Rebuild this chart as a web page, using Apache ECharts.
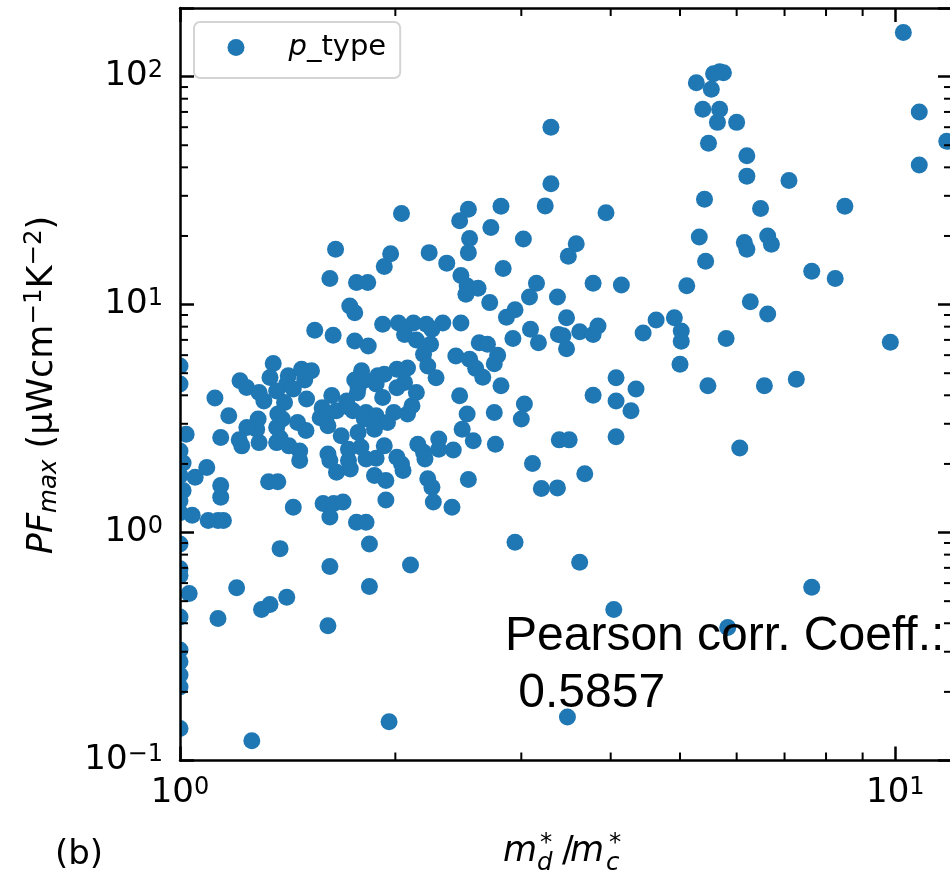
<!DOCTYPE html>
<html>
<head>
<meta charset="utf-8">
<script src="https://cdn.jsdelivr.net/npm/echarts@6/dist/echarts.min.js"></script>
<style>
  html, body { margin: 0; padding: 0; background: #ffffff; }
  #chart { width: 950px; height: 878px; }
</style>
</head>
<body>
<div id="chart"></div>
<script>
// p-type samples: [m_d*/m_c*, PF_max (uW cm^-1 K^-2)]
const pTypePoints = [
  [1.0,5.38],[1.0,4.48],[1.02,2.7],[1.0,2.28],[1.01,2.02],[1.0,1.78],[1.01,1.53],[1.0,1.38],[1.0,1.22],[1.05,1.75],
  [1.0,0.89],[1.0,0.694],[1.0,0.648],[1.03,0.54],[1.0,0.426],[1.0,0.305],[1.0,0.271],[1.0,0.237],[1.0,0.21],[1.0,0.138],
  [1.2,0.573],[1.84,0.58],[1.41,0.52],[1.336,0.483],[1.3,0.46],[1.13,0.42],[1.61,0.39],[1.96,0.148],[1.26,0.122],[1.62,0.71],
  [2.1,0.72],[1.38,0.85],[1.84,0.89],[2.94,0.907],[3.62,0.74],[7.64,0.576],[4.04,0.46],[5.83,0.383],[3.48,0.155],
  [1.09,1.93],[1.14,1.61],[1.14,1.43],[1.33,1.67],[1.37,1.67],[1.44,1.29],[1.585,1.34],[1.64,1.34],[1.69,1.36],[1.62,1.17],
  [1.765,1.11],[1.82,1.11],[1.04,1.19],[1.095,1.13],[1.13,1.13],[1.15,1.13],[1.87,1.78],[1.94,1.69],[1.94,1.39],[2.05,1.87],
  [2.04,2.0],[2.22,1.72],[2.25,1.58],[2.26,1.36],[2.4,1.29],[2.53,1.71],[3.2,1.56],[3.37,1.57],[3.68,1.81],[3.11,2.01],
  [1.655,1.84],[1.61,2.21],[1.62,2.07],[1.72,2.07],[1.88,2.12],[1.47,2.28],[1.47,2.07],[1.42,2.4],[1.365,2.48],[1.73,1.9],[1.82,2.1],
  [1.17,3.25],[1.14,2.61],[1.22,2.4],[1.29,2.48],[1.119,3.89],[1.213,4.63],[1.239,4.33],[1.35,5.51],[1.336,4.79],[1.417,4.87],
  [1.479,5.2],[1.527,5.12],[1.494,4.67],[1.503,3.85],[1.63,3.99],[1.794,5.12],[1.813,4.67],[1.774,4.33],[1.92,8.2],[2.02,8.3],
  [2.12,8.3],[2.21,8.2],[2.33,8.3],[2.47,8.3],[2.06,7.4],[2.14,7.0],[2.24,6.7],[2.25,7.8],[2.43,5.95],[2.19,6.05],
  [2.22,5.38],[2.28,4.78],[2.08,5.27],[2.06,4.55],[2.01,4.32],[2.14,4.11],[2.08,3.31],[1.99,3.36],[1.92,3.91],[1.88,4.48],
  [1.755,4.67],[1.77,4.1],[1.655,3.42],[1.71,3.78],[1.745,3.42],[1.82,3.36],[2.46,3.98],[2.52,3.31],[1.57,3.19],[1.61,2.94],
  [1.41,4.48],[1.44,4.26],[1.29,4.11],[1.31,3.78],[1.365,4.18],[1.4,3.72],[1.39,3.15],[1.365,2.89],[1.46,3.04],[1.5,2.8],
  [1.286,3.15],[1.28,2.84],[1.24,2.89],[1.21,2.55],[1.38,2.6],[1.68,2.66],[1.72,2.32],[1.774,2.75],[1.79,2.37],[1.81,3.15],
  [1.58,3.53],[1.61,3.31],[1.72,3.55],[1.37,3.31],[2.54,5.76],[2.59,5.25],[2.62,6.8],[2.69,6.7],[1.89,4.87],[1.93,4.95],
  [2.01,5.2],[2.11,3.6],[1.88,3.25],[1.95,3.04],[1.87,2.84],[1.93,2.4],[2.15,2.44],[2.19,2.25],[2.2,2.1],[2.3,2.57],
  [2.3,2.32],[2.41,2.3],[2.48,2.84],[2.57,2.53],[2.76,2.44],[2.01,2.14],
  [1.727,9.86],[1.755,9.21],[1.543,7.71],[1.637,7.33],[1.755,6.92],[1.833,6.58],[1.62,13.0],[1.65,17.5],[1.765,12.5],[1.83,12.5],
  [1.93,14.7],[1.97,16.7],[2.04,25.1],[2.23,16.9],[2.36,15.2],[2.46,23.3],[2.53,26.2],[2.54,19.5],[2.53,16.9],[2.72,21.8],
  [2.81,27.0],[3.02,19.4],[2.83,14.4],[3.15,12.4],[3.24,27.1],[3.3,33.9],[3.3,60.0],[3.58,18.5],[3.49,16.3],[2.47,13.4],
  [2.52,12.05],[2.61,11.8],[2.51,11.1],[2.71,10.2],[3.08,10.8],[3.37,10.8],[2.94,9.5],[2.86,8.8],[3.09,7.8],[2.92,7.1],
  [3.17,6.8],[3.47,8.75],[3.38,7.4],[3.43,7.3],[3.47,6.4],[3.62,7.6],[3.78,7.4],[3.84,8.05],[4.44,7.5],[4.63,8.55],
  [4.91,8.75],[5.02,7.66],[5.02,6.9],[5.0,5.47],[5.8,7.1],[2.78,6.0],[2.75,5.5],[2.65,4.8],[2.81,4.4],[3.03,3.66],
  [3.0,3.15],[2.75,3.36],[3.78,4.0],[4.07,4.78],[4.34,4.26],[4.07,3.78],[4.27,3.42],[5.47,4.4],[6.56,4.4],[7.27,4.7],
  [3.39,2.55],[3.5,2.55],[4.07,2.63],[6.06,2.35],[3.78,12.4],[4.14,12.2],[3.94,25.3],[5.11,12.1],
  [5.27,94],[5.57,103],[5.68,105],[5.75,104],[5.53,88],[5.38,72],[5.68,72],[5.64,63],[6.0,63],[5.48,51],
  [6.2,45],[6.2,36.6],[7.1,35],[5.41,29],[6.48,26.4],[8.5,27],[5.32,19.8],[6.15,18.7],[6.2,17.5],[6.63,20],
  [6.71,18.4],[5.43,15.5],[7.64,14],[8.24,13],[6.27,10.3],[6.63,9.1],[9.84,6.83],[10.26,156],[10.8,70],[11.8,52],[10.8,41]
];

const xRange = [1, 12];
const yRange = [0.1, 200];
const xMinorTicks = [2, 3, 4, 5, 6, 7, 8, 9];
const yMinorTicks = [0.2, 0.3, 0.4, 0.5, 0.6, 0.7, 0.8, 0.9, 2, 3, 4, 5, 6, 7, 8, 9, 20, 30, 40, 50, 60, 70, 80, 90];
const seriesName = 'p_type';
const pearsonLines = ['Pearson corr. Coeff.:', ' 0.5857'];
const panelTag = '(b)';

const dotColor = '#1f77b4';
const mathFont = 'DejaVu Sans';

// "10^n" tick text with a raised exponent
function powerLabel(v) {
  const e = Math.log10(v);
  const r = Math.round(e);
  if (Math.abs(e - r) > 1e-6) return '';
  const exp = r < 0 ? '\u2212' + (-r) : String(r);
  return '{b|10}{s|' + exp + '}';
}
const powerRich = {
  b: { fontFamily: mathFont, fontSize: 34, lineHeight: 40, color: '#000' },
  s: { fontFamily: mathFont, fontSize: 24, lineHeight: 24, color: '#000', padding: [0, 0, 12, 0] }
};

function logAxis(kind, position, showLabels) {
  return {
    type: 'log', logBase: 10,
    min: kind === 'x' ? xRange[0] : yRange[0],
    max: kind === 'x' ? xRange[1] : yRange[1],
    position: position,
    z: 5,
    axisLine: { show: true, onZero: false, lineStyle: { color: '#000', width: 2.5 } },
    axisTick: { show: true, inside: true, length: 14, lineStyle: { color: '#000', width: 2.5 } },
    axisLabel: {
      show: showLabels, formatter: powerLabel, rich: powerRich,
      margin: kind === 'x' ? 13 : 17
    },
    splitLine: { show: false },
    minorTick: { show: false },
    axisPointer: { show: false }
  };
}

// minor log ticks on all four spines
const minorTickData = xMinorTicks.map(v => [v, 1, 0]).concat(yMinorTicks.map(v => [1, v, 1]));

const chart = echarts.init(document.getElementById('chart'), null, { renderer: 'canvas' });

chart.setOption({
  animation: false,
  backgroundColor: '#ffffff',
  grid: { left: 180, top: 8, width: 772, height: 752.5, containLabel: false, outerBoundsMode: 'none' },
  xAxis: [logAxis('x', 'bottom', true), logAxis('x', 'top', false)],
  yAxis: [logAxis('y', 'left', true), logAxis('y', 'right', false)],
  legend: {
    data: [{ name: seriesName, icon: 'circle' }],
    selectedMode: false,
    left: 194, top: 22,
    orient: 'vertical',
    itemWidth: 17, itemHeight: 17,
    padding: [11, 14, 16, 33.5],
    backgroundColor: 'rgba(255,255,255,0.8)',
    borderColor: '#d4d4d4', borderWidth: 2, borderRadius: 6,
    formatter: () => '{p|p}{t|_type}',
    textStyle: {
      rich: {
        p: { fontFamily: mathFont, fontStyle: 'italic', fontSize: 29, lineHeight: 30, color: '#000', padding: [0, 0, 0, 39] },
        t: { fontFamily: mathFont, fontSize: 29, lineHeight: 30, color: '#000' }
      }
    }
  },
  series: [
    {
      name: seriesName,
      type: 'custom',
      coordinateSystem: 'cartesian2d',
      xAxisIndex: 0, yAxisIndex: 0,
      clip: true,
      z: 2,
      itemStyle: { color: dotColor },
      encode: { x: 0, y: 1 },
      data: pTypePoints,
      renderItem: function (params, api) {
        const p = api.coord([api.value(0), api.value(1)]);
        return {
          type: 'circle',
          shape: { cx: p[0], cy: p[1], r: 8.5 },
          style: { fill: dotColor }
        };
      }
    },
    {
      type: 'custom',
      coordinateSystem: 'cartesian2d',
      xAxisIndex: 0, yAxisIndex: 0,
      silent: true, clip: false, z: 6,
      encode: { x: 0, y: 1 },
      data: minorTickData,
      renderItem: function (params, api) {
        const a = api.value(0), b = api.value(1), kind = api.value(2);
        const len = 8;
        const st = { stroke: '#000', lineWidth: 2 };
        if (kind === 0) {
          const lo = api.coord([a, yRange[0]]);
          const hi = api.coord([a, yRange[1]]);
          return { type: 'group', children: [
            { type: 'line', shape: { x1: lo[0], y1: lo[1], x2: lo[0], y2: lo[1] - len }, style: st },
            { type: 'line', shape: { x1: hi[0], y1: hi[1], x2: hi[0], y2: hi[1] + len }, style: st }
          ] };
        }
        const l = api.coord([xRange[0], b]);
        const r = api.coord([xRange[1], b]);
        return { type: 'group', children: [
          { type: 'line', shape: { x1: l[0], y1: l[1], x2: l[0] + len, y2: l[1] }, style: st },
          { type: 'line', shape: { x1: r[0], y1: r[1], x2: r[0] - len, y2: r[1] }, style: st }
        ] };
      }
    }
  ],
  graphic: [
    {
      type: 'text', x: 505, y: 608, z: 20,
      style: {
        text: pearsonLines.join('\n'),
        fontFamily: 'Liberation Sans', fontSize: 48, lineHeight: 57,
        fill: '#000', align: 'left', verticalAlign: 'top'
      }
    },
    {
      type: 'text', x: 42.5, y: 385, rotation: Math.PI / 2, z: 20,
      style: {
        text: '{i|PF}{sub|max}{n| (\u03bcWcm}{sup|\u22121}{n|K}{sup|\u22122}{n|)}',
        align: 'center', verticalAlign: 'middle',
        rich: {
          i: { fontFamily: mathFont, fontStyle: 'italic', fontSize: 35, lineHeight: 40, fill: '#000' },
          sub: { fontFamily: mathFont, fontStyle: 'italic', fontSize: 24.5, lineHeight: 24, fill: '#000', padding: [14, 0, 0, 0] },
          n: { fontFamily: mathFont, fontSize: 35, lineHeight: 40, fill: '#000' },
          sup: { fontFamily: mathFont, fontSize: 24.5, lineHeight: 24, fill: '#000', padding: [0, 0, 16, 0] }
        }
      }
    },
    {
      type: 'group', z: 20,
      children: [
        { type: 'text', x: 503, y: 851.5, style: { text: 'm', fontFamily: mathFont, fontStyle: 'italic', fontSize: 35, fill: '#000', verticalAlign: 'middle' } },
        { type: 'text', x: 537, y: 864, style: { text: 'd', fontFamily: mathFont, fontStyle: 'italic', fontSize: 24.5, fill: '#000', verticalAlign: 'middle' } },
        { type: 'text', x: 540, y: 844, style: { text: '*', fontFamily: mathFont, fontSize: 24.5, fill: '#000', verticalAlign: 'middle' } },
        { type: 'text', x: 562, y: 851.5, style: { text: '/', fontFamily: mathFont, fontSize: 35, fill: '#000', verticalAlign: 'middle' } },
        { type: 'text', x: 570, y: 851.5, style: { text: 'm', fontFamily: mathFont, fontStyle: 'italic', fontSize: 35, fill: '#000', verticalAlign: 'middle' } },
        { type: 'text', x: 606, y: 864, style: { text: 'c', fontFamily: mathFont, fontStyle: 'italic', fontSize: 24.5, fill: '#000', verticalAlign: 'middle' } },
        { type: 'text', x: 609, y: 844, style: { text: '*', fontFamily: mathFont, fontSize: 24.5, fill: '#000', verticalAlign: 'middle' } }
      ]
    },
    {
      type: 'text', x: 55, y: 855, z: 20,
      style: { text: panelTag, fontFamily: mathFont, fontSize: 34, fill: '#000', verticalAlign: 'middle' }
    }
  ]
});
</script>
</body>
</html>
